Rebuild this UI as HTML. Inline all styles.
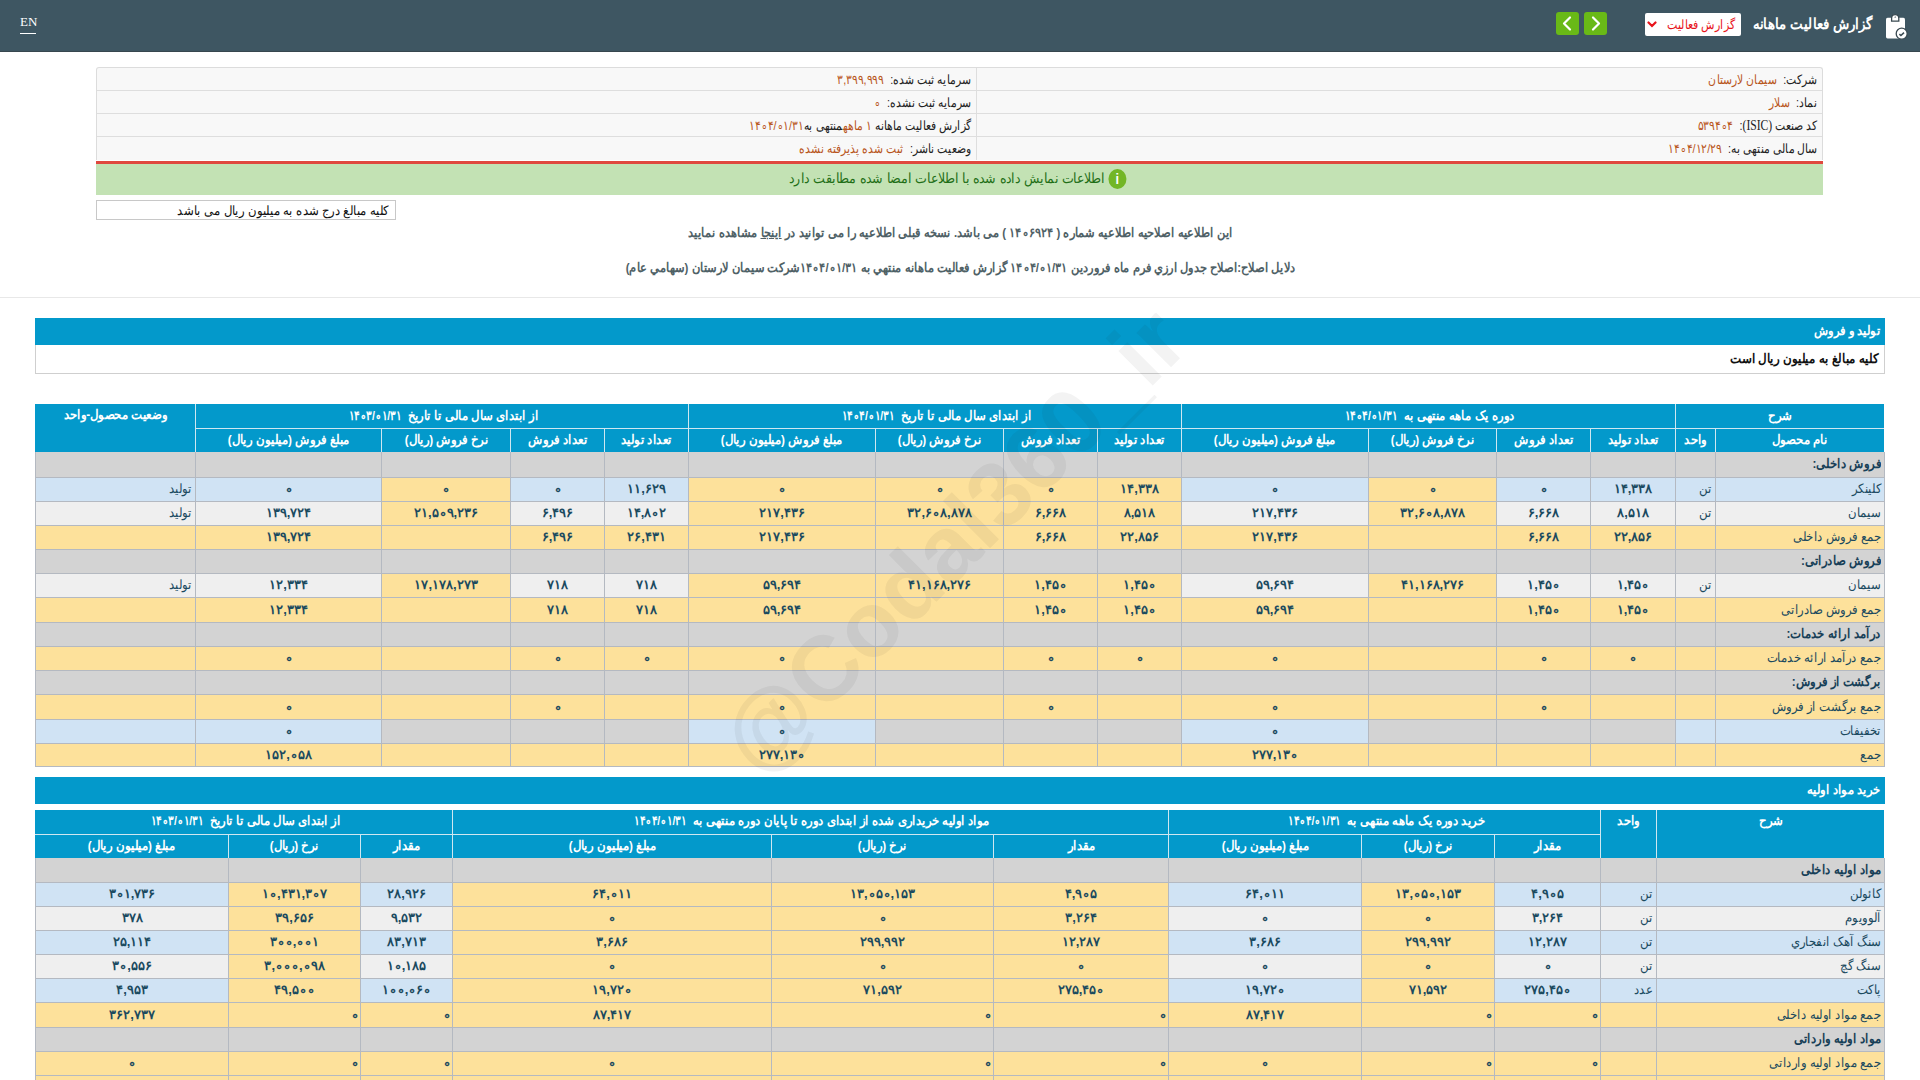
<!DOCTYPE html>
<html lang="fa" dir="rtl">
<head>
<meta charset="utf-8">
<title>گزارش فعالیت ماهانه</title>
<style>
html,body{margin:0;padding:0;background:#fff;}
body{width:1920px;height:1080px;overflow:hidden;position:relative;font-family:"Liberation Sans",sans-serif;font-size:13px;color:#222;}
.abs{position:absolute;}
.ltr{direction:ltr;unicode-bidi:isolate;}
/* top bar */
#topbar{position:absolute;left:0;top:0;width:1920px;height:51px;background:#3e5662;border-bottom:1px solid #37474f;}
#en{position:absolute;left:20px;top:14px;font-family:"Liberation Serif",serif;font-size:13px;color:#fff;direction:ltr;line-height:16px;}
#enline{position:absolute;left:20px;top:33px;width:16px;height:1px;background:#fff;}
#title{position:absolute;right:48px;top:14px;color:#fff;font-weight:bold;font-size:15px;line-height:20px;white-space:nowrap;transform:scaleX(0.89);transform-origin:right center;}
#dd{position:absolute;left:1645px;top:13px;width:96px;height:23px;background:#fff;border-radius:2px;}
#dd span{position:absolute;right:6px;top:3px;color:#e8141b;font-size:13px;line-height:17px;white-space:nowrap;transform:scaleX(0.85);transform-origin:right center;}
#dd svg{position:absolute;left:2px;top:8px;}
.gbtn{position:absolute;top:12px;width:23px;height:23px;background:#69b917;border-radius:3px;}
.gbtn svg{position:absolute;left:0;top:0;}
/* info table */
#info{position:absolute;left:96px;top:67px;width:1727px;height:93px;background:#f8f8f8;border:1px solid #dcdcdc;border-bottom:none;box-sizing:border-box;border-radius:3px 3px 0 0;}
.irow{position:absolute;left:0;width:1725px;height:1px;background:#dedede;}
.icol{position:absolute;top:0;width:1px;height:92px;background:#dedede;}
.itxt{position:absolute;white-space:nowrap;line-height:16px;font-size:13px;color:#222;transform:scaleX(0.83);transform-origin:right center;}
.itxt b{font-weight:normal;color:#b8561c;margin-right:4px;}
#redline{position:absolute;left:96px;top:161px;width:1727px;height:3px;background:#e0483e;}
#green{position:absolute;left:96px;top:164px;width:1727px;height:31px;background:#c3e2b4;}
#greentxt{position:absolute;left:0;right:0;top:5px;text-align:center;color:#1f6f17;font-size:14px;line-height:20px;white-space:nowrap;}
#gt{display:inline-block;transform:scaleX(0.9);transform-origin:center;position:relative;top:-1px;}
#ginfo{display:inline-block;vertical-align:middle;width:20px;height:20px;border-radius:50%;background:#72b626;color:#fff;font-size:14px;line-height:20px;text-align:center;font-weight:bold;margin-right:4px;margin-top:-2px;position:relative;top:1px;font-family:"Liberation Sans",sans-serif;}
#box{position:absolute;left:96px;top:200px;width:300px;height:20px;box-sizing:border-box;border:1px solid #c8c8c8;background:#fff;}
#box span{position:absolute;right:6px;top:2px;font-size:13px;line-height:16px;color:#111;white-space:nowrap;transform:scaleX(0.9);transform-origin:right center;}
.note{position:absolute;left:0;width:1920px;text-align:center;font-weight:bold;color:#4f6166;font-size:13px;line-height:16px;white-space:nowrap;}
.ns{display:inline-block;transform:scaleX(0.88);transform-origin:center;}
#sep{position:absolute;left:0;top:297px;width:1920px;height:1px;background:#e8e8e8;}
/* sections */
.sec{position:absolute;left:35px;width:1850px;background:#0399cb;}
.sec span{position:absolute;right:5px;color:#fff;font-weight:bold;font-size:13px;line-height:16px;white-space:nowrap;transform:scaleX(0.89);transform-origin:right center;}
#wbox{position:absolute;left:35px;top:345px;width:1850px;height:29px;box-sizing:border-box;border:1px solid #cfcfcf;border-top:none;background:#fff;}
#wbox span{position:absolute;right:6px;top:6px;color:#111;font-weight:bold;font-size:13px;line-height:16px;white-space:nowrap;transform:scaleX(0.91);transform-origin:right center;}
/* table cells */
.tbl{position:absolute;}
.h{position:absolute;box-sizing:border-box;border-left:1px solid #cfe7f1;border-bottom:1px solid #cfe7f1;display:flex;align-items:center;justify-content:center;color:#fff;font-weight:bold;font-size:13px;white-space:nowrap;overflow:hidden;padding-bottom:2px;}
.h span{display:inline-block;transform:scaleX(0.9);}
.c{position:absolute;box-sizing:border-box;border:1px solid #b4b9c1;display:flex;align-items:center;justify-content:center;white-space:nowrap;overflow:hidden;color:#1b4a5f;font-size:13px;padding-bottom:2px;}
.c[style*="text-align:right"]{justify-content:flex-start;}
.c span{display:inline-block;}
.c span.p{transform:scaleX(0.9);transform-origin:right center;}
.c span.n{direction:ltr;unicode-bidi:isolate;font-weight:bold;}
/* watermark */
#wm{position:absolute;left:953px;top:540px;transform:translate(-50%,-50%) rotate(-45deg);font-family:"Liberation Sans",sans-serif;font-weight:bold;font-size:92px;color:rgba(40,40,40,0.055);white-space:nowrap;direction:ltr;pointer-events:none;line-height:1;}
</style>
</head>
<body>
<div id="topbar">
  <div id="en">EN</div>
  <div id="enline"></div>
  <div class="gbtn" style="left:1556px"><svg width="23" height="23" viewBox="0 0 23 23"><path d="M14 5.5 L8 11.5 L14 17.5" fill="none" stroke="#fff" stroke-width="2.2" stroke-linecap="round" stroke-linejoin="round"/></svg></div>
  <div class="gbtn" style="left:1584px"><svg width="23" height="23" viewBox="0 0 23 23"><path d="M9 5.5 L15 11.5 L9 17.5" fill="none" stroke="#fff" stroke-width="2.2" stroke-linecap="round" stroke-linejoin="round"/></svg></div>
  <div id="dd"><svg width="10" height="7" viewBox="0 0 10 7"><path d="M1.5 1.5 L5 5 L8.5 1.5" fill="none" stroke="#e8141b" stroke-width="2.2" stroke-linecap="round"/></svg><span>گزارش فعالیت</span></div>
  <div id="title">گزارش فعالیت ماهانه</div>
  <svg class="abs" style="left:1880px;top:12px" width="30" height="30" viewBox="0 0 30 30">
    <rect x="6" y="5.8" width="19" height="20.6" rx="1.6" fill="#fff"/>
    <path d="M11.6 9.2 L11.6 6.2 Q11.6 2.6 15.2 2.6 Q18.8 2.6 18.8 6.2 L18.8 9.2 Z" fill="#fff" stroke="#3a4a52" stroke-width="1.3"/>
    <path d="M14.2 5.6 L15.2 4.2 L16.2 5.6 Z" fill="#3a4a52"/>
    <circle cx="21.7" cy="21.7" r="5.5" fill="#fff" stroke="#3a4a52" stroke-width="1.3"/>
    <path d="M19.4 22.2 L20.9 23.5 L24 20.6" fill="none" stroke="#3a4a52" stroke-width="1.6"/>
  </svg>
</div>

<div id="info">
  <div class="irow" style="top:22px"></div>
  <div class="irow" style="top:45px"></div>
  <div class="irow" style="top:68px"></div>
  <div class="icol" style="left:879px"></div>
  <div class="itxt" style="right:5px;top:4px">شرکت: <b>سیمان لارستان</b></div>
  <div class="itxt" style="right:5px;top:27px">نماد: <b>سلار</b></div>
  <div class="itxt" style="right:5px;top:50px">کد صنعت <span style="font-family:'Liberation Serif',serif;font-size:14px">(ISIC)</span>: <b><span class="ltr">۵۳۹۴∘۴</span></b></div>
  <div class="itxt" style="right:5px;top:73px">سال مالی منتهی به: <b><span class="ltr">۱۴∘۴/۱۲/۲۹</span></b></div>
  <div class="itxt" style="right:851px;top:4px">سرمایه ثبت شده: <b>۳,۳۹۹,۹۹۹</b></div>
  <div class="itxt" style="right:851px;top:27px">سرمایه ثبت نشده: <b><span class="ltr">∘</span></b></div>
  <div class="itxt" style="right:851px;top:50px">گزارش فعالیت ماهانه <b style="margin:0">۱ ماهه</b>منتهی به<b style="margin:0"><span class="ltr">۱۴∘۴/∘۱/۳۱</span></b></div>
  <div class="itxt" style="right:851px;top:73px">وضعیت ناشر: <b>ثبت شده پذیرفته نشده</b></div>
</div>
<div id="redline"></div>
<div id="green"><div id="greentxt"><span id="gt"><span id="ginfo">i</span> اطلاعات نمایش داده شده با اطلاعات امضا شده مطابقت دارد</span></div></div>
<div id="box"><span>کلیه مبالغ درج شده به میلیون ریال می باشد</span></div>
<div class="note" style="top:225px"><span class="ns">این اطلاعیه اصلاحیه اطلاعیه شماره ( <span class="ltr">۱۴∘۶۹۲۴</span> ) می باشد. نسخه قبلی اطلاعیه را می توانید در <u>اینجا</u> مشاهده نمایید</span></div>
<div class="note" style="top:260px"><span class="ns">دلایل اصلاح:اصلاح جدول ارزي فرم ماه فروردین <span class="ltr">۱۴∘۴/∘۱/۳۱</span> گزارش فعالیت ماهانه منتهي به <span class="ltr">۱۴∘۴/∘۱/۳۱</span>شرکت سیمان لارستان (سهامي عام)</span></div>
<div id="sep"></div>

<div class="sec" style="top:318px;height:27px"><span style="top:5px">تولید و فروش</span></div>
<div id="wbox"><span>کلیه مبالغ به میلیون ریال است</span></div>

<div class="tbl" style="left:35px;top:404px;width:1849px;height:48px;background:#0399cb"></div>
<div class="h" style="left:1675px;top:404px;width:209px;height:25px;"><span>شرح</span></div>
<div class="h" style="left:1181px;top:404px;width:494px;height:25px;"><span>دوره یک ماهه منتهی به <span class="ltr">۱۴∘۴/∘۱/۳۱</span></span></div>
<div class="h" style="left:688px;top:404px;width:493px;height:25px;"><span>از ابتدای سال مالی تا تاریخ <span class="ltr">۱۴∘۴/∘۱/۳۱</span></span></div>
<div class="h" style="left:195px;top:404px;width:493px;height:25px;"><span>از ابتدای سال مالی تا تاریخ <span class="ltr">۱۴∘۳/∘۱/۳۱</span></span></div>
<div class="h" style="left:35px;top:404px;width:160px;height:48px;border:none;align-items:flex-start;padding-top:3px"><span>وضعیت محصول-واحد</span></div>
<div class="h" style="left:1715px;top:429px;width:169px;height:23px;border-bottom:none"><span>نام محصول</span></div>
<div class="h" style="left:1675px;top:429px;width:40px;height:23px;border-bottom:none"><span>واحد</span></div>
<div class="h" style="left:1590px;top:429px;width:85px;height:23px;border-bottom:none"><span>تعداد تولید</span></div>
<div class="h" style="left:1496px;top:429px;width:94px;height:23px;border-bottom:none"><span>تعداد فروش</span></div>
<div class="h" style="left:1368px;top:429px;width:128px;height:23px;border-bottom:none"><span>نرخ فروش (ریال)</span></div>
<div class="h" style="left:1181px;top:429px;width:187px;height:23px;border-bottom:none"><span>مبلغ فروش (میلیون ریال)</span></div>
<div class="h" style="left:1097px;top:429px;width:84px;height:23px;border-bottom:none"><span>تعداد تولید</span></div>
<div class="h" style="left:1003px;top:429px;width:94px;height:23px;border-bottom:none"><span>تعداد فروش</span></div>
<div class="h" style="left:875px;top:429px;width:128px;height:23px;border-bottom:none"><span>نرخ فروش (ریال)</span></div>
<div class="h" style="left:688px;top:429px;width:187px;height:23px;border-bottom:none"><span>مبلغ فروش (میلیون ریال)</span></div>
<div class="h" style="left:604px;top:429px;width:84px;height:23px;border-bottom:none"><span>تعداد تولید</span></div>
<div class="h" style="left:510px;top:429px;width:94px;height:23px;border-bottom:none"><span>تعداد فروش</span></div>
<div class="h" style="left:381px;top:429px;width:129px;height:23px;border-bottom:none"><span>نرخ فروش (ریال)</span></div>
<div class="h" style="left:195px;top:429px;width:186px;height:23px;border-bottom:none"><span>مبلغ فروش (میلیون ریال)</span></div>
<div class="c d" style="left:1715px;top:452px;width:170px;height:26px;background:#d3d3d3;border-top:none;text-align:right;padding:0 3px 2px;font-weight:bold;color:#173f57;"><span class="p">فروش داخلی:</span></div>
<div class="c d" style="left:1675px;top:452px;width:41px;height:26px;background:#d3d3d3;border-top:none;text-align:right;padding:0 3px 2px;"><span></span></div>
<div class="c d" style="left:1590px;top:452px;width:86px;height:26px;background:#d3d3d3;border-top:none;"><span></span></div>
<div class="c d" style="left:1496px;top:452px;width:95px;height:26px;background:#d3d3d3;border-top:none;"><span></span></div>
<div class="c d" style="left:1368px;top:452px;width:129px;height:26px;background:#d3d3d3;border-top:none;"><span></span></div>
<div class="c d" style="left:1181px;top:452px;width:188px;height:26px;background:#d3d3d3;border-top:none;"><span></span></div>
<div class="c d" style="left:1097px;top:452px;width:85px;height:26px;background:#d3d3d3;border-top:none;"><span></span></div>
<div class="c d" style="left:1003px;top:452px;width:95px;height:26px;background:#d3d3d3;border-top:none;"><span></span></div>
<div class="c d" style="left:875px;top:452px;width:129px;height:26px;background:#d3d3d3;border-top:none;"><span></span></div>
<div class="c d" style="left:688px;top:452px;width:188px;height:26px;background:#d3d3d3;border-top:none;"><span></span></div>
<div class="c d" style="left:604px;top:452px;width:85px;height:26px;background:#d3d3d3;border-top:none;"><span></span></div>
<div class="c d" style="left:510px;top:452px;width:95px;height:26px;background:#d3d3d3;border-top:none;"><span></span></div>
<div class="c d" style="left:381px;top:452px;width:130px;height:26px;background:#d3d3d3;border-top:none;"><span></span></div>
<div class="c d" style="left:195px;top:452px;width:187px;height:26px;background:#d3d3d3;border-top:none;"><span></span></div>
<div class="c d" style="left:35px;top:452px;width:161px;height:26px;background:#d3d3d3;border-top:none;text-align:right;padding:0 3px 2px;"><span></span></div>
<div class="c d" style="left:1715px;top:477px;width:170px;height:25px;background:#d0e3f4;text-align:right;padding:0 3px 2px;"><span class="p">کلینکر</span></div>
<div class="c d" style="left:1675px;top:477px;width:41px;height:25px;background:#d0e3f4;text-align:right;padding:0 3px 2px;"><span class="p">تن</span></div>
<div class="c d" style="left:1590px;top:477px;width:86px;height:25px;background:#d0e3f4;"><span class="n">۱۴,۳۳۸</span></div>
<div class="c d" style="left:1496px;top:477px;width:95px;height:25px;background:#d0e3f4;"><span class="n">∘</span></div>
<div class="c d" style="left:1368px;top:477px;width:129px;height:25px;background:#fde19b;"><span class="n">∘</span></div>
<div class="c d" style="left:1181px;top:477px;width:188px;height:25px;background:#d0e3f4;"><span class="n">∘</span></div>
<div class="c d" style="left:1097px;top:477px;width:85px;height:25px;background:#fde19b;"><span class="n">۱۴,۳۳۸</span></div>
<div class="c d" style="left:1003px;top:477px;width:95px;height:25px;background:#fde19b;"><span class="n">∘</span></div>
<div class="c d" style="left:875px;top:477px;width:129px;height:25px;background:#fde19b;"><span class="n">∘</span></div>
<div class="c d" style="left:688px;top:477px;width:188px;height:25px;background:#fde19b;"><span class="n">∘</span></div>
<div class="c d" style="left:604px;top:477px;width:85px;height:25px;background:#d0e3f4;"><span class="n">۱۱,۶۲۹</span></div>
<div class="c d" style="left:510px;top:477px;width:95px;height:25px;background:#d0e3f4;"><span class="n">∘</span></div>
<div class="c d" style="left:381px;top:477px;width:130px;height:25px;background:#fde19b;"><span class="n">∘</span></div>
<div class="c d" style="left:195px;top:477px;width:187px;height:25px;background:#d0e3f4;"><span class="n">∘</span></div>
<div class="c d" style="left:35px;top:477px;width:161px;height:25px;background:#d0e3f4;text-align:right;padding:0 3px 2px;"><span class="p">تولید</span></div>
<div class="c d" style="left:1715px;top:501px;width:170px;height:25px;background:#efefef;text-align:right;padding:0 3px 2px;"><span class="p">سیمان</span></div>
<div class="c d" style="left:1675px;top:501px;width:41px;height:25px;background:#efefef;text-align:right;padding:0 3px 2px;"><span class="p">تن</span></div>
<div class="c d" style="left:1590px;top:501px;width:86px;height:25px;background:#efefef;"><span class="n">۸,۵۱۸</span></div>
<div class="c d" style="left:1496px;top:501px;width:95px;height:25px;background:#efefef;"><span class="n">۶,۶۶۸</span></div>
<div class="c d" style="left:1368px;top:501px;width:129px;height:25px;background:#fde19b;"><span class="n">۳۲,۶∘۸,۸۷۸</span></div>
<div class="c d" style="left:1181px;top:501px;width:188px;height:25px;background:#efefef;"><span class="n">۲۱۷,۴۳۶</span></div>
<div class="c d" style="left:1097px;top:501px;width:85px;height:25px;background:#fde19b;"><span class="n">۸,۵۱۸</span></div>
<div class="c d" style="left:1003px;top:501px;width:95px;height:25px;background:#fde19b;"><span class="n">۶,۶۶۸</span></div>
<div class="c d" style="left:875px;top:501px;width:129px;height:25px;background:#fde19b;"><span class="n">۳۲,۶∘۸,۸۷۸</span></div>
<div class="c d" style="left:688px;top:501px;width:188px;height:25px;background:#fde19b;"><span class="n">۲۱۷,۴۳۶</span></div>
<div class="c d" style="left:604px;top:501px;width:85px;height:25px;background:#efefef;"><span class="n">۱۴,۸∘۲</span></div>
<div class="c d" style="left:510px;top:501px;width:95px;height:25px;background:#efefef;"><span class="n">۶,۴۹۶</span></div>
<div class="c d" style="left:381px;top:501px;width:130px;height:25px;background:#fde19b;"><span class="n">۲۱,۵∘۹,۲۳۶</span></div>
<div class="c d" style="left:195px;top:501px;width:187px;height:25px;background:#efefef;"><span class="n">۱۳۹,۷۲۴</span></div>
<div class="c d" style="left:35px;top:501px;width:161px;height:25px;background:#efefef;text-align:right;padding:0 3px 2px;"><span class="p">تولید</span></div>
<div class="c d" style="left:1715px;top:525px;width:170px;height:25px;background:#fde19b;text-align:right;padding:0 3px 2px;"><span class="p">جمع فروش داخلی</span></div>
<div class="c d" style="left:1675px;top:525px;width:41px;height:25px;background:#fde19b;text-align:right;padding:0 3px 2px;"><span></span></div>
<div class="c d" style="left:1590px;top:525px;width:86px;height:25px;background:#fde19b;"><span class="n">۲۲,۸۵۶</span></div>
<div class="c d" style="left:1496px;top:525px;width:95px;height:25px;background:#fde19b;"><span class="n">۶,۶۶۸</span></div>
<div class="c d" style="left:1368px;top:525px;width:129px;height:25px;background:#fde19b;"><span></span></div>
<div class="c d" style="left:1181px;top:525px;width:188px;height:25px;background:#fde19b;"><span class="n">۲۱۷,۴۳۶</span></div>
<div class="c d" style="left:1097px;top:525px;width:85px;height:25px;background:#fde19b;"><span class="n">۲۲,۸۵۶</span></div>
<div class="c d" style="left:1003px;top:525px;width:95px;height:25px;background:#fde19b;"><span class="n">۶,۶۶۸</span></div>
<div class="c d" style="left:875px;top:525px;width:129px;height:25px;background:#fde19b;"><span></span></div>
<div class="c d" style="left:688px;top:525px;width:188px;height:25px;background:#fde19b;"><span class="n">۲۱۷,۴۳۶</span></div>
<div class="c d" style="left:604px;top:525px;width:85px;height:25px;background:#fde19b;"><span class="n">۲۶,۴۳۱</span></div>
<div class="c d" style="left:510px;top:525px;width:95px;height:25px;background:#fde19b;"><span class="n">۶,۴۹۶</span></div>
<div class="c d" style="left:381px;top:525px;width:130px;height:25px;background:#fde19b;"><span></span></div>
<div class="c d" style="left:195px;top:525px;width:187px;height:25px;background:#fde19b;"><span class="n">۱۳۹,۷۲۴</span></div>
<div class="c d" style="left:35px;top:525px;width:161px;height:25px;background:#fde19b;text-align:right;padding:0 3px 2px;"><span></span></div>
<div class="c d" style="left:1715px;top:549px;width:170px;height:25px;background:#d3d3d3;text-align:right;padding:0 3px 2px;font-weight:bold;color:#173f57;"><span class="p">فروش صادراتی:</span></div>
<div class="c d" style="left:1675px;top:549px;width:41px;height:25px;background:#d3d3d3;text-align:right;padding:0 3px 2px;"><span></span></div>
<div class="c d" style="left:1590px;top:549px;width:86px;height:25px;background:#d3d3d3;"><span></span></div>
<div class="c d" style="left:1496px;top:549px;width:95px;height:25px;background:#d3d3d3;"><span></span></div>
<div class="c d" style="left:1368px;top:549px;width:129px;height:25px;background:#d3d3d3;"><span></span></div>
<div class="c d" style="left:1181px;top:549px;width:188px;height:25px;background:#d3d3d3;"><span></span></div>
<div class="c d" style="left:1097px;top:549px;width:85px;height:25px;background:#d3d3d3;"><span></span></div>
<div class="c d" style="left:1003px;top:549px;width:95px;height:25px;background:#d3d3d3;"><span></span></div>
<div class="c d" style="left:875px;top:549px;width:129px;height:25px;background:#d3d3d3;"><span></span></div>
<div class="c d" style="left:688px;top:549px;width:188px;height:25px;background:#d3d3d3;"><span></span></div>
<div class="c d" style="left:604px;top:549px;width:85px;height:25px;background:#d3d3d3;"><span></span></div>
<div class="c d" style="left:510px;top:549px;width:95px;height:25px;background:#d3d3d3;"><span></span></div>
<div class="c d" style="left:381px;top:549px;width:130px;height:25px;background:#d3d3d3;"><span></span></div>
<div class="c d" style="left:195px;top:549px;width:187px;height:25px;background:#d3d3d3;"><span></span></div>
<div class="c d" style="left:35px;top:549px;width:161px;height:25px;background:#d3d3d3;text-align:right;padding:0 3px 2px;"><span></span></div>
<div class="c d" style="left:1715px;top:573px;width:170px;height:25px;background:#efefef;text-align:right;padding:0 3px 2px;"><span class="p">سیمان</span></div>
<div class="c d" style="left:1675px;top:573px;width:41px;height:25px;background:#efefef;text-align:right;padding:0 3px 2px;"><span class="p">تن</span></div>
<div class="c d" style="left:1590px;top:573px;width:86px;height:25px;background:#efefef;"><span class="n">۱,۴۵∘</span></div>
<div class="c d" style="left:1496px;top:573px;width:95px;height:25px;background:#efefef;"><span class="n">۱,۴۵∘</span></div>
<div class="c d" style="left:1368px;top:573px;width:129px;height:25px;background:#fde19b;"><span class="n">۴۱,۱۶۸,۲۷۶</span></div>
<div class="c d" style="left:1181px;top:573px;width:188px;height:25px;background:#efefef;"><span class="n">۵۹,۶۹۴</span></div>
<div class="c d" style="left:1097px;top:573px;width:85px;height:25px;background:#fde19b;"><span class="n">۱,۴۵∘</span></div>
<div class="c d" style="left:1003px;top:573px;width:95px;height:25px;background:#fde19b;"><span class="n">۱,۴۵∘</span></div>
<div class="c d" style="left:875px;top:573px;width:129px;height:25px;background:#fde19b;"><span class="n">۴۱,۱۶۸,۲۷۶</span></div>
<div class="c d" style="left:688px;top:573px;width:188px;height:25px;background:#fde19b;"><span class="n">۵۹,۶۹۴</span></div>
<div class="c d" style="left:604px;top:573px;width:85px;height:25px;background:#efefef;"><span class="n">۷۱۸</span></div>
<div class="c d" style="left:510px;top:573px;width:95px;height:25px;background:#efefef;"><span class="n">۷۱۸</span></div>
<div class="c d" style="left:381px;top:573px;width:130px;height:25px;background:#fde19b;"><span class="n">۱۷,۱۷۸,۲۷۳</span></div>
<div class="c d" style="left:195px;top:573px;width:187px;height:25px;background:#efefef;"><span class="n">۱۲,۳۳۴</span></div>
<div class="c d" style="left:35px;top:573px;width:161px;height:25px;background:#efefef;text-align:right;padding:0 3px 2px;"><span class="p">تولید</span></div>
<div class="c d" style="left:1715px;top:597px;width:170px;height:26px;background:#fde19b;text-align:right;padding:0 3px 2px;"><span class="p">جمع فروش صادراتی</span></div>
<div class="c d" style="left:1675px;top:597px;width:41px;height:26px;background:#fde19b;text-align:right;padding:0 3px 2px;"><span></span></div>
<div class="c d" style="left:1590px;top:597px;width:86px;height:26px;background:#fde19b;"><span class="n">۱,۴۵∘</span></div>
<div class="c d" style="left:1496px;top:597px;width:95px;height:26px;background:#fde19b;"><span class="n">۱,۴۵∘</span></div>
<div class="c d" style="left:1368px;top:597px;width:129px;height:26px;background:#fde19b;"><span></span></div>
<div class="c d" style="left:1181px;top:597px;width:188px;height:26px;background:#fde19b;"><span class="n">۵۹,۶۹۴</span></div>
<div class="c d" style="left:1097px;top:597px;width:85px;height:26px;background:#fde19b;"><span class="n">۱,۴۵∘</span></div>
<div class="c d" style="left:1003px;top:597px;width:95px;height:26px;background:#fde19b;"><span class="n">۱,۴۵∘</span></div>
<div class="c d" style="left:875px;top:597px;width:129px;height:26px;background:#fde19b;"><span></span></div>
<div class="c d" style="left:688px;top:597px;width:188px;height:26px;background:#fde19b;"><span class="n">۵۹,۶۹۴</span></div>
<div class="c d" style="left:604px;top:597px;width:85px;height:26px;background:#fde19b;"><span class="n">۷۱۸</span></div>
<div class="c d" style="left:510px;top:597px;width:95px;height:26px;background:#fde19b;"><span class="n">۷۱۸</span></div>
<div class="c d" style="left:381px;top:597px;width:130px;height:26px;background:#fde19b;"><span></span></div>
<div class="c d" style="left:195px;top:597px;width:187px;height:26px;background:#fde19b;"><span class="n">۱۲,۳۳۴</span></div>
<div class="c d" style="left:35px;top:597px;width:161px;height:26px;background:#fde19b;text-align:right;padding:0 3px 2px;"><span></span></div>
<div class="c d" style="left:1715px;top:622px;width:170px;height:25px;background:#d3d3d3;text-align:right;padding:0 3px 2px;font-weight:bold;color:#173f57;"><span class="p">درآمد ارائه خدمات:</span></div>
<div class="c d" style="left:1675px;top:622px;width:41px;height:25px;background:#d3d3d3;text-align:right;padding:0 3px 2px;"><span></span></div>
<div class="c d" style="left:1590px;top:622px;width:86px;height:25px;background:#d3d3d3;"><span></span></div>
<div class="c d" style="left:1496px;top:622px;width:95px;height:25px;background:#d3d3d3;"><span></span></div>
<div class="c d" style="left:1368px;top:622px;width:129px;height:25px;background:#d3d3d3;"><span></span></div>
<div class="c d" style="left:1181px;top:622px;width:188px;height:25px;background:#d3d3d3;"><span></span></div>
<div class="c d" style="left:1097px;top:622px;width:85px;height:25px;background:#d3d3d3;"><span></span></div>
<div class="c d" style="left:1003px;top:622px;width:95px;height:25px;background:#d3d3d3;"><span></span></div>
<div class="c d" style="left:875px;top:622px;width:129px;height:25px;background:#d3d3d3;"><span></span></div>
<div class="c d" style="left:688px;top:622px;width:188px;height:25px;background:#d3d3d3;"><span></span></div>
<div class="c d" style="left:604px;top:622px;width:85px;height:25px;background:#d3d3d3;"><span></span></div>
<div class="c d" style="left:510px;top:622px;width:95px;height:25px;background:#d3d3d3;"><span></span></div>
<div class="c d" style="left:381px;top:622px;width:130px;height:25px;background:#d3d3d3;"><span></span></div>
<div class="c d" style="left:195px;top:622px;width:187px;height:25px;background:#d3d3d3;"><span></span></div>
<div class="c d" style="left:35px;top:622px;width:161px;height:25px;background:#d3d3d3;text-align:right;padding:0 3px 2px;"><span></span></div>
<div class="c d" style="left:1715px;top:646px;width:170px;height:25px;background:#fde19b;text-align:right;padding:0 3px 2px;"><span class="p">جمع درآمد ارائه خدمات</span></div>
<div class="c d" style="left:1675px;top:646px;width:41px;height:25px;background:#fde19b;text-align:right;padding:0 3px 2px;"><span></span></div>
<div class="c d" style="left:1590px;top:646px;width:86px;height:25px;background:#fde19b;"><span class="n">∘</span></div>
<div class="c d" style="left:1496px;top:646px;width:95px;height:25px;background:#fde19b;"><span class="n">∘</span></div>
<div class="c d" style="left:1368px;top:646px;width:129px;height:25px;background:#fde19b;"><span></span></div>
<div class="c d" style="left:1181px;top:646px;width:188px;height:25px;background:#fde19b;"><span class="n">∘</span></div>
<div class="c d" style="left:1097px;top:646px;width:85px;height:25px;background:#fde19b;"><span class="n">∘</span></div>
<div class="c d" style="left:1003px;top:646px;width:95px;height:25px;background:#fde19b;"><span class="n">∘</span></div>
<div class="c d" style="left:875px;top:646px;width:129px;height:25px;background:#fde19b;"><span></span></div>
<div class="c d" style="left:688px;top:646px;width:188px;height:25px;background:#fde19b;"><span class="n">∘</span></div>
<div class="c d" style="left:604px;top:646px;width:85px;height:25px;background:#fde19b;"><span class="n">∘</span></div>
<div class="c d" style="left:510px;top:646px;width:95px;height:25px;background:#fde19b;"><span class="n">∘</span></div>
<div class="c d" style="left:381px;top:646px;width:130px;height:25px;background:#fde19b;"><span></span></div>
<div class="c d" style="left:195px;top:646px;width:187px;height:25px;background:#fde19b;"><span class="n">∘</span></div>
<div class="c d" style="left:35px;top:646px;width:161px;height:25px;background:#fde19b;text-align:right;padding:0 3px 2px;"><span></span></div>
<div class="c d" style="left:1715px;top:670px;width:170px;height:25px;background:#d3d3d3;text-align:right;padding:0 3px 2px;font-weight:bold;color:#173f57;"><span class="p">برگشت از فروش:</span></div>
<div class="c d" style="left:1675px;top:670px;width:41px;height:25px;background:#d3d3d3;text-align:right;padding:0 3px 2px;"><span></span></div>
<div class="c d" style="left:1590px;top:670px;width:86px;height:25px;background:#d3d3d3;"><span></span></div>
<div class="c d" style="left:1496px;top:670px;width:95px;height:25px;background:#d3d3d3;"><span></span></div>
<div class="c d" style="left:1368px;top:670px;width:129px;height:25px;background:#d3d3d3;"><span></span></div>
<div class="c d" style="left:1181px;top:670px;width:188px;height:25px;background:#d3d3d3;"><span></span></div>
<div class="c d" style="left:1097px;top:670px;width:85px;height:25px;background:#d3d3d3;"><span></span></div>
<div class="c d" style="left:1003px;top:670px;width:95px;height:25px;background:#d3d3d3;"><span></span></div>
<div class="c d" style="left:875px;top:670px;width:129px;height:25px;background:#d3d3d3;"><span></span></div>
<div class="c d" style="left:688px;top:670px;width:188px;height:25px;background:#d3d3d3;"><span></span></div>
<div class="c d" style="left:604px;top:670px;width:85px;height:25px;background:#d3d3d3;"><span></span></div>
<div class="c d" style="left:510px;top:670px;width:95px;height:25px;background:#d3d3d3;"><span></span></div>
<div class="c d" style="left:381px;top:670px;width:130px;height:25px;background:#d3d3d3;"><span></span></div>
<div class="c d" style="left:195px;top:670px;width:187px;height:25px;background:#d3d3d3;"><span></span></div>
<div class="c d" style="left:35px;top:670px;width:161px;height:25px;background:#d3d3d3;text-align:right;padding:0 3px 2px;"><span></span></div>
<div class="c d" style="left:1715px;top:694px;width:170px;height:26px;background:#fde19b;text-align:right;padding:0 3px 2px;"><span class="p">جمع برگشت از فروش</span></div>
<div class="c d" style="left:1675px;top:694px;width:41px;height:26px;background:#fde19b;text-align:right;padding:0 3px 2px;"><span></span></div>
<div class="c d" style="left:1590px;top:694px;width:86px;height:26px;background:#fde19b;"><span></span></div>
<div class="c d" style="left:1496px;top:694px;width:95px;height:26px;background:#fde19b;"><span class="n">∘</span></div>
<div class="c d" style="left:1368px;top:694px;width:129px;height:26px;background:#fde19b;"><span></span></div>
<div class="c d" style="left:1181px;top:694px;width:188px;height:26px;background:#fde19b;"><span class="n">∘</span></div>
<div class="c d" style="left:1097px;top:694px;width:85px;height:26px;background:#fde19b;"><span></span></div>
<div class="c d" style="left:1003px;top:694px;width:95px;height:26px;background:#fde19b;"><span class="n">∘</span></div>
<div class="c d" style="left:875px;top:694px;width:129px;height:26px;background:#fde19b;"><span></span></div>
<div class="c d" style="left:688px;top:694px;width:188px;height:26px;background:#fde19b;"><span class="n">∘</span></div>
<div class="c d" style="left:604px;top:694px;width:85px;height:26px;background:#fde19b;"><span></span></div>
<div class="c d" style="left:510px;top:694px;width:95px;height:26px;background:#fde19b;"><span class="n">∘</span></div>
<div class="c d" style="left:381px;top:694px;width:130px;height:26px;background:#fde19b;"><span></span></div>
<div class="c d" style="left:195px;top:694px;width:187px;height:26px;background:#fde19b;"><span class="n">∘</span></div>
<div class="c d" style="left:35px;top:694px;width:161px;height:26px;background:#fde19b;text-align:right;padding:0 3px 2px;"><span></span></div>
<div class="c d" style="left:1715px;top:719px;width:170px;height:25px;background:#d0e3f4;text-align:right;padding:0 3px 2px;"><span class="p">تخفیفات</span></div>
<div class="c d" style="left:1675px;top:719px;width:41px;height:25px;background:#d0e3f4;text-align:right;padding:0 3px 2px;"><span></span></div>
<div class="c d" style="left:1590px;top:719px;width:86px;height:25px;background:#d3d3d3;"><span></span></div>
<div class="c d" style="left:1496px;top:719px;width:95px;height:25px;background:#d3d3d3;"><span></span></div>
<div class="c d" style="left:1368px;top:719px;width:129px;height:25px;background:#d3d3d3;"><span></span></div>
<div class="c d" style="left:1181px;top:719px;width:188px;height:25px;background:#d0e3f4;"><span class="n">∘</span></div>
<div class="c d" style="left:1097px;top:719px;width:85px;height:25px;background:#d3d3d3;"><span></span></div>
<div class="c d" style="left:1003px;top:719px;width:95px;height:25px;background:#d3d3d3;"><span></span></div>
<div class="c d" style="left:875px;top:719px;width:129px;height:25px;background:#d3d3d3;"><span></span></div>
<div class="c d" style="left:688px;top:719px;width:188px;height:25px;background:#d0e3f4;"><span class="n">∘</span></div>
<div class="c d" style="left:604px;top:719px;width:85px;height:25px;background:#d3d3d3;"><span></span></div>
<div class="c d" style="left:510px;top:719px;width:95px;height:25px;background:#d3d3d3;"><span></span></div>
<div class="c d" style="left:381px;top:719px;width:130px;height:25px;background:#d3d3d3;"><span></span></div>
<div class="c d" style="left:195px;top:719px;width:187px;height:25px;background:#d0e3f4;"><span class="n">∘</span></div>
<div class="c d" style="left:35px;top:719px;width:161px;height:25px;background:#d0e3f4;text-align:right;padding:0 3px 2px;"><span></span></div>
<div class="c d" style="left:1715px;top:743px;width:170px;height:24px;background:#fde19b;text-align:right;padding:0 3px 2px;"><span class="p">جمع</span></div>
<div class="c d" style="left:1675px;top:743px;width:41px;height:24px;background:#fde19b;text-align:right;padding:0 3px 2px;"><span></span></div>
<div class="c d" style="left:1590px;top:743px;width:86px;height:24px;background:#fde19b;"><span></span></div>
<div class="c d" style="left:1496px;top:743px;width:95px;height:24px;background:#fde19b;"><span></span></div>
<div class="c d" style="left:1368px;top:743px;width:129px;height:24px;background:#fde19b;"><span></span></div>
<div class="c d" style="left:1181px;top:743px;width:188px;height:24px;background:#fde19b;"><span class="n">۲۷۷,۱۳∘</span></div>
<div class="c d" style="left:1097px;top:743px;width:85px;height:24px;background:#fde19b;"><span></span></div>
<div class="c d" style="left:1003px;top:743px;width:95px;height:24px;background:#fde19b;"><span></span></div>
<div class="c d" style="left:875px;top:743px;width:129px;height:24px;background:#fde19b;"><span></span></div>
<div class="c d" style="left:688px;top:743px;width:188px;height:24px;background:#fde19b;"><span class="n">۲۷۷,۱۳∘</span></div>
<div class="c d" style="left:604px;top:743px;width:85px;height:24px;background:#fde19b;"><span></span></div>
<div class="c d" style="left:510px;top:743px;width:95px;height:24px;background:#fde19b;"><span></span></div>
<div class="c d" style="left:381px;top:743px;width:130px;height:24px;background:#fde19b;"><span></span></div>
<div class="c d" style="left:195px;top:743px;width:187px;height:24px;background:#fde19b;"><span class="n">۱۵۲,∘۵۸</span></div>
<div class="c d" style="left:35px;top:743px;width:161px;height:24px;background:#fde19b;text-align:right;padding:0 3px 2px;"><span></span></div>

<div class="sec" style="top:777px;height:27px"><span style="top:5px">خرید مواد اولیه</span></div>

<div class="tbl" style="left:35px;top:809.5px;width:1849px;height:48.5px;background:#0399cb"></div>
<div class="h" style="left:1656px;top:809.5px;width:228px;height:48.5px;border-bottom:none;align-items:flex-start;padding-top:3px"><span>شرح</span></div>
<div class="h" style="left:1600px;top:809.5px;width:56px;height:48.5px;border-bottom:none;align-items:flex-start;padding-top:3px"><span>واحد</span></div>
<div class="h" style="left:1168px;top:809.5px;width:432px;height:25.0px;"><span>خرید دوره یک ماهه منتهی به <span class="ltr">۱۴∘۴/∘۱/۳۱</span></span></div>
<div class="h" style="left:452px;top:809.5px;width:716px;height:25.0px;"><span>مواد اولیه خریداری شده از ابتدای دوره تا پایان دوره منتهی به <span class="ltr">۱۴∘۴/∘۱/۳۱</span></span></div>
<div class="h" style="left:35px;top:809.5px;width:417px;height:25.0px;border-left:none;"><span>از ابتدای سال مالی تا تاریخ <span class="ltr">۱۴∘۳/∘۱/۳۱</span></span></div>
<div class="h" style="left:1494px;top:834.5px;width:106px;height:23.5px;border-bottom:none;"><span>مقدار</span></div>
<div class="h" style="left:1361px;top:834.5px;width:133px;height:23.5px;border-bottom:none;"><span>نرخ (ریال)</span></div>
<div class="h" style="left:1168px;top:834.5px;width:193px;height:23.5px;border-bottom:none;"><span>مبلغ (میلیون ریال)</span></div>
<div class="h" style="left:993px;top:834.5px;width:175px;height:23.5px;border-bottom:none;"><span>مقدار</span></div>
<div class="h" style="left:771px;top:834.5px;width:222px;height:23.5px;border-bottom:none;"><span>نرخ (ریال)</span></div>
<div class="h" style="left:452px;top:834.5px;width:319px;height:23.5px;border-bottom:none;"><span>مبلغ (میلیون ریال)</span></div>
<div class="h" style="left:360px;top:834.5px;width:92px;height:23.5px;border-bottom:none;"><span>مقدار</span></div>
<div class="h" style="left:228px;top:834.5px;width:132px;height:23.5px;border-bottom:none;"><span>نرخ (ریال)</span></div>
<div class="h" style="left:35px;top:834.5px;width:193px;height:23.5px;border-bottom:none;border-left:none;"><span>مبلغ (میلیون ریال)</span></div>
<div class="c d" style="left:1656px;top:858px;width:229px;height:25px;background:#d3d3d3;border-top:none;text-align:right;padding:0 3px 2px;font-weight:bold;color:#173f57;"><span class="p">مواد اولیه داخلی</span></div>
<div class="c d" style="left:1600px;top:858px;width:57px;height:25px;background:#d3d3d3;border-top:none;text-align:right;padding:0 3px 2px;"><span></span></div>
<div class="c d" style="left:1494px;top:858px;width:107px;height:25px;background:#d3d3d3;border-top:none;"><span></span></div>
<div class="c d" style="left:1361px;top:858px;width:134px;height:25px;background:#d3d3d3;border-top:none;"><span></span></div>
<div class="c d" style="left:1168px;top:858px;width:194px;height:25px;background:#d3d3d3;border-top:none;"><span></span></div>
<div class="c d" style="left:993px;top:858px;width:176px;height:25px;background:#d3d3d3;border-top:none;"><span></span></div>
<div class="c d" style="left:771px;top:858px;width:223px;height:25px;background:#d3d3d3;border-top:none;"><span></span></div>
<div class="c d" style="left:452px;top:858px;width:320px;height:25px;background:#d3d3d3;border-top:none;"><span></span></div>
<div class="c d" style="left:360px;top:858px;width:93px;height:25px;background:#d3d3d3;border-top:none;"><span></span></div>
<div class="c d" style="left:228px;top:858px;width:133px;height:25px;background:#d3d3d3;border-top:none;"><span></span></div>
<div class="c d" style="left:35px;top:858px;width:194px;height:25px;background:#d3d3d3;border-top:none;"><span></span></div>
<div class="c d" style="left:1656px;top:882px;width:229px;height:25px;background:#d0e3f4;text-align:right;padding:0 3px 2px;"><span class="p">کائولن</span></div>
<div class="c d" style="left:1600px;top:882px;width:57px;height:25px;background:#d0e3f4;text-align:right;padding:0 3px 2px;"><span class="p">تن</span></div>
<div class="c d" style="left:1494px;top:882px;width:107px;height:25px;background:#d0e3f4;"><span class="n">۴,۹∘۵</span></div>
<div class="c d" style="left:1361px;top:882px;width:134px;height:25px;background:#fde19b;"><span class="n">۱۳,∘۵∘,۱۵۳</span></div>
<div class="c d" style="left:1168px;top:882px;width:194px;height:25px;background:#d0e3f4;"><span class="n">۶۴,∘۱۱</span></div>
<div class="c d" style="left:993px;top:882px;width:176px;height:25px;background:#fde19b;"><span class="n">۴,۹∘۵</span></div>
<div class="c d" style="left:771px;top:882px;width:223px;height:25px;background:#fde19b;"><span class="n">۱۳,∘۵∘,۱۵۳</span></div>
<div class="c d" style="left:452px;top:882px;width:320px;height:25px;background:#fde19b;"><span class="n">۶۴,∘۱۱</span></div>
<div class="c d" style="left:360px;top:882px;width:93px;height:25px;background:#d0e3f4;"><span class="n">۲۸,۹۲۶</span></div>
<div class="c d" style="left:228px;top:882px;width:133px;height:25px;background:#fde19b;"><span class="n">۱∘,۴۳۱,۳∘۷</span></div>
<div class="c d" style="left:35px;top:882px;width:194px;height:25px;background:#d0e3f4;"><span class="n">۳∘۱,۷۳۶</span></div>
<div class="c d" style="left:1656px;top:906px;width:229px;height:25px;background:#efefef;text-align:right;padding:0 3px 2px;"><span class="p">آلوویوم</span></div>
<div class="c d" style="left:1600px;top:906px;width:57px;height:25px;background:#efefef;text-align:right;padding:0 3px 2px;"><span class="p">تن</span></div>
<div class="c d" style="left:1494px;top:906px;width:107px;height:25px;background:#efefef;"><span class="n">۳,۲۶۴</span></div>
<div class="c d" style="left:1361px;top:906px;width:134px;height:25px;background:#fde19b;"><span class="n">∘</span></div>
<div class="c d" style="left:1168px;top:906px;width:194px;height:25px;background:#efefef;"><span class="n">∘</span></div>
<div class="c d" style="left:993px;top:906px;width:176px;height:25px;background:#fde19b;"><span class="n">۳,۲۶۴</span></div>
<div class="c d" style="left:771px;top:906px;width:223px;height:25px;background:#fde19b;"><span class="n">∘</span></div>
<div class="c d" style="left:452px;top:906px;width:320px;height:25px;background:#fde19b;"><span class="n">∘</span></div>
<div class="c d" style="left:360px;top:906px;width:93px;height:25px;background:#efefef;"><span class="n">۹,۵۳۲</span></div>
<div class="c d" style="left:228px;top:906px;width:133px;height:25px;background:#fde19b;"><span class="n">۳۹,۶۵۶</span></div>
<div class="c d" style="left:35px;top:906px;width:194px;height:25px;background:#efefef;"><span class="n">۳۷۸</span></div>
<div class="c d" style="left:1656px;top:930px;width:229px;height:25px;background:#d0e3f4;text-align:right;padding:0 3px 2px;"><span class="p">سنگ آهک انفجاري</span></div>
<div class="c d" style="left:1600px;top:930px;width:57px;height:25px;background:#d0e3f4;text-align:right;padding:0 3px 2px;"><span class="p">تن</span></div>
<div class="c d" style="left:1494px;top:930px;width:107px;height:25px;background:#d0e3f4;"><span class="n">۱۲,۲۸۷</span></div>
<div class="c d" style="left:1361px;top:930px;width:134px;height:25px;background:#fde19b;"><span class="n">۲۹۹,۹۹۲</span></div>
<div class="c d" style="left:1168px;top:930px;width:194px;height:25px;background:#d0e3f4;"><span class="n">۳,۶۸۶</span></div>
<div class="c d" style="left:993px;top:930px;width:176px;height:25px;background:#fde19b;"><span class="n">۱۲,۲۸۷</span></div>
<div class="c d" style="left:771px;top:930px;width:223px;height:25px;background:#fde19b;"><span class="n">۲۹۹,۹۹۲</span></div>
<div class="c d" style="left:452px;top:930px;width:320px;height:25px;background:#fde19b;"><span class="n">۳,۶۸۶</span></div>
<div class="c d" style="left:360px;top:930px;width:93px;height:25px;background:#d0e3f4;"><span class="n">۸۳,۷۱۳</span></div>
<div class="c d" style="left:228px;top:930px;width:133px;height:25px;background:#fde19b;"><span class="n">۳∘∘,∘∘۱</span></div>
<div class="c d" style="left:35px;top:930px;width:194px;height:25px;background:#d0e3f4;"><span class="n">۲۵,۱۱۴</span></div>
<div class="c d" style="left:1656px;top:954px;width:229px;height:25px;background:#efefef;text-align:right;padding:0 3px 2px;"><span class="p">سنگ گچ</span></div>
<div class="c d" style="left:1600px;top:954px;width:57px;height:25px;background:#efefef;text-align:right;padding:0 3px 2px;"><span class="p">تن</span></div>
<div class="c d" style="left:1494px;top:954px;width:107px;height:25px;background:#efefef;"><span class="n">∘</span></div>
<div class="c d" style="left:1361px;top:954px;width:134px;height:25px;background:#fde19b;"><span class="n">∘</span></div>
<div class="c d" style="left:1168px;top:954px;width:194px;height:25px;background:#efefef;"><span class="n">∘</span></div>
<div class="c d" style="left:993px;top:954px;width:176px;height:25px;background:#fde19b;"><span class="n">∘</span></div>
<div class="c d" style="left:771px;top:954px;width:223px;height:25px;background:#fde19b;"><span class="n">∘</span></div>
<div class="c d" style="left:452px;top:954px;width:320px;height:25px;background:#fde19b;"><span class="n">∘</span></div>
<div class="c d" style="left:360px;top:954px;width:93px;height:25px;background:#efefef;"><span class="n">۱∘,۱۸۵</span></div>
<div class="c d" style="left:228px;top:954px;width:133px;height:25px;background:#fde19b;"><span class="n">۳,∘∘∘,∘۹۸</span></div>
<div class="c d" style="left:35px;top:954px;width:194px;height:25px;background:#efefef;"><span class="n">۳∘,۵۵۶</span></div>
<div class="c d" style="left:1656px;top:978px;width:229px;height:25px;background:#d0e3f4;text-align:right;padding:0 3px 2px;"><span class="p">پاکت</span></div>
<div class="c d" style="left:1600px;top:978px;width:57px;height:25px;background:#d0e3f4;text-align:right;padding:0 3px 2px;"><span class="p">عدد</span></div>
<div class="c d" style="left:1494px;top:978px;width:107px;height:25px;background:#d0e3f4;"><span class="n">۲۷۵,۴۵∘</span></div>
<div class="c d" style="left:1361px;top:978px;width:134px;height:25px;background:#fde19b;"><span class="n">۷۱,۵۹۲</span></div>
<div class="c d" style="left:1168px;top:978px;width:194px;height:25px;background:#d0e3f4;"><span class="n">۱۹,۷۲∘</span></div>
<div class="c d" style="left:993px;top:978px;width:176px;height:25px;background:#fde19b;"><span class="n">۲۷۵,۴۵∘</span></div>
<div class="c d" style="left:771px;top:978px;width:223px;height:25px;background:#fde19b;"><span class="n">۷۱,۵۹۲</span></div>
<div class="c d" style="left:452px;top:978px;width:320px;height:25px;background:#fde19b;"><span class="n">۱۹,۷۲∘</span></div>
<div class="c d" style="left:360px;top:978px;width:93px;height:25px;background:#d0e3f4;"><span class="n">۱∘∘,∘۶∘</span></div>
<div class="c d" style="left:228px;top:978px;width:133px;height:25px;background:#fde19b;"><span class="n">۴۹,۵∘∘</span></div>
<div class="c d" style="left:35px;top:978px;width:194px;height:25px;background:#d0e3f4;"><span class="n">۴,۹۵۳</span></div>
<div class="c d" style="left:1656px;top:1002px;width:229px;height:26px;background:#fde19b;text-align:right;padding:0 3px 2px;"><span class="p">جمع مواد اولیه داخلی</span></div>
<div class="c d" style="left:1600px;top:1002px;width:57px;height:26px;background:#fde19b;text-align:right;padding:0 3px 2px;"><span></span></div>
<div class="c d" style="left:1494px;top:1002px;width:107px;height:26px;background:#fde19b;text-align:right;padding:0 1px 2px;"><span class="n">∘</span></div>
<div class="c d" style="left:1361px;top:1002px;width:134px;height:26px;background:#fde19b;text-align:right;padding:0 1px 2px;"><span class="n">∘</span></div>
<div class="c d" style="left:1168px;top:1002px;width:194px;height:26px;background:#fde19b;"><span class="n">۸۷,۴۱۷</span></div>
<div class="c d" style="left:993px;top:1002px;width:176px;height:26px;background:#fde19b;text-align:right;padding:0 1px 2px;"><span class="n">∘</span></div>
<div class="c d" style="left:771px;top:1002px;width:223px;height:26px;background:#fde19b;text-align:right;padding:0 1px 2px;"><span class="n">∘</span></div>
<div class="c d" style="left:452px;top:1002px;width:320px;height:26px;background:#fde19b;"><span class="n">۸۷,۴۱۷</span></div>
<div class="c d" style="left:360px;top:1002px;width:93px;height:26px;background:#fde19b;text-align:right;padding:0 1px 2px;"><span class="n">∘</span></div>
<div class="c d" style="left:228px;top:1002px;width:133px;height:26px;background:#fde19b;text-align:right;padding:0 1px 2px;"><span class="n">∘</span></div>
<div class="c d" style="left:35px;top:1002px;width:194px;height:26px;background:#fde19b;"><span class="n">۳۶۲,۷۳۷</span></div>
<div class="c d" style="left:1656px;top:1027px;width:229px;height:25px;background:#d3d3d3;text-align:right;padding:0 3px 2px;font-weight:bold;color:#173f57;"><span class="p">مواد اولیه وارداتی</span></div>
<div class="c d" style="left:1600px;top:1027px;width:57px;height:25px;background:#d3d3d3;text-align:right;padding:0 3px 2px;"><span></span></div>
<div class="c d" style="left:1494px;top:1027px;width:107px;height:25px;background:#d3d3d3;"><span></span></div>
<div class="c d" style="left:1361px;top:1027px;width:134px;height:25px;background:#d3d3d3;"><span></span></div>
<div class="c d" style="left:1168px;top:1027px;width:194px;height:25px;background:#d3d3d3;"><span></span></div>
<div class="c d" style="left:993px;top:1027px;width:176px;height:25px;background:#d3d3d3;"><span></span></div>
<div class="c d" style="left:771px;top:1027px;width:223px;height:25px;background:#d3d3d3;"><span></span></div>
<div class="c d" style="left:452px;top:1027px;width:320px;height:25px;background:#d3d3d3;"><span></span></div>
<div class="c d" style="left:360px;top:1027px;width:93px;height:25px;background:#d3d3d3;"><span></span></div>
<div class="c d" style="left:228px;top:1027px;width:133px;height:25px;background:#d3d3d3;"><span></span></div>
<div class="c d" style="left:35px;top:1027px;width:194px;height:25px;background:#d3d3d3;"><span></span></div>
<div class="c d" style="left:1656px;top:1051px;width:229px;height:25px;background:#fde19b;text-align:right;padding:0 3px 2px;"><span class="p">جمع مواد اولیه وارداتی</span></div>
<div class="c d" style="left:1600px;top:1051px;width:57px;height:25px;background:#fde19b;text-align:right;padding:0 3px 2px;"><span></span></div>
<div class="c d" style="left:1494px;top:1051px;width:107px;height:25px;background:#fde19b;text-align:right;padding:0 1px 2px;"><span class="n">∘</span></div>
<div class="c d" style="left:1361px;top:1051px;width:134px;height:25px;background:#fde19b;text-align:right;padding:0 1px 2px;"><span class="n">∘</span></div>
<div class="c d" style="left:1168px;top:1051px;width:194px;height:25px;background:#fde19b;"><span class="n">∘</span></div>
<div class="c d" style="left:993px;top:1051px;width:176px;height:25px;background:#fde19b;text-align:right;padding:0 1px 2px;"><span class="n">∘</span></div>
<div class="c d" style="left:771px;top:1051px;width:223px;height:25px;background:#fde19b;text-align:right;padding:0 1px 2px;"><span class="n">∘</span></div>
<div class="c d" style="left:452px;top:1051px;width:320px;height:25px;background:#fde19b;"><span class="n">∘</span></div>
<div class="c d" style="left:360px;top:1051px;width:93px;height:25px;background:#fde19b;text-align:right;padding:0 1px 2px;"><span class="n">∘</span></div>
<div class="c d" style="left:228px;top:1051px;width:133px;height:25px;background:#fde19b;text-align:right;padding:0 1px 2px;"><span class="n">∘</span></div>
<div class="c d" style="left:35px;top:1051px;width:194px;height:25px;background:#fde19b;"><span class="n">∘</span></div>
<div class="c d" style="left:1656px;top:1075px;width:229px;height:25px;background:#fde19b;text-align:right;padding:0 3px 2px;"><span></span></div>
<div class="c d" style="left:1600px;top:1075px;width:57px;height:25px;background:#fde19b;text-align:right;padding:0 3px 2px;"><span></span></div>
<div class="c d" style="left:1494px;top:1075px;width:107px;height:25px;background:#fde19b;"><span></span></div>
<div class="c d" style="left:1361px;top:1075px;width:134px;height:25px;background:#fde19b;"><span></span></div>
<div class="c d" style="left:1168px;top:1075px;width:194px;height:25px;background:#fde19b;"><span></span></div>
<div class="c d" style="left:993px;top:1075px;width:176px;height:25px;background:#fde19b;"><span></span></div>
<div class="c d" style="left:771px;top:1075px;width:223px;height:25px;background:#fde19b;"><span></span></div>
<div class="c d" style="left:452px;top:1075px;width:320px;height:25px;background:#fde19b;"><span></span></div>
<div class="c d" style="left:360px;top:1075px;width:93px;height:25px;background:#fde19b;"><span></span></div>
<div class="c d" style="left:228px;top:1075px;width:133px;height:25px;background:#fde19b;"><span></span></div>
<div class="c d" style="left:35px;top:1075px;width:194px;height:25px;background:#fde19b;"><span></span></div>

<div id="wm">@Codal360_ir</div>
</body>
</html>
